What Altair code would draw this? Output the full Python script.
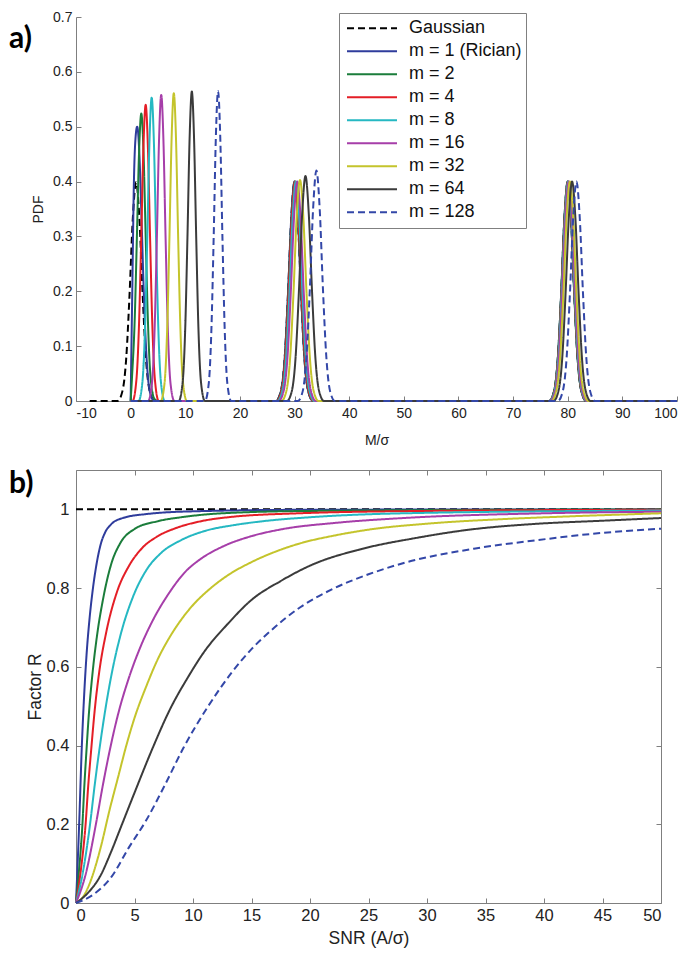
import altair as alt
import pandas as pd

FONT = "Liberation Sans"

series = ["Gaussian", "m = 1 (Rician)", "m = 2", "m = 4", "m = 8", "m = 16", "m = 32", "m = 64", "m = 128"]
colors = ["#000000", "#2f3c9c", "#1b7d3b", "#e41e26", "#25b8c2", "#a63ea9", "#c4c42c", "#3b3b3b", "#3347a8"]
dashes = [[7, 4], [1, 0], [1, 0], [1, 0], [1, 0], [1, 0], [1, 0], [1, 0], [7, 4]]

# ---------------- panel a: PDF vs M/sigma ----------------
a_x_gauss = [-7.5, -2.4, -1.5, -0.8, -0.2, 0.4, 1.0, 1.6, 2.2, 2.8, 3.5, 4.4,
             26.6, 27.5, 28.2, 28.8, 29.4, 30.0, 30.6, 31.2, 31.8, 32.5, 33.4,
             76.6, 77.5, 78.2, 78.8, 79.4, 80.0, 80.6, 81.2, 81.8, 82.5, 83.4, 100]
a_y_gauss = [0, 0, 0.018, 0.079, 0.194, 0.333, 0.399, 0.333, 0.194, 0.079, 0.018, 0,
             0, 0.018, 0.079, 0.194, 0.333, 0.399, 0.333, 0.194, 0.079, 0.018, 0,
             0, 0.018, 0.079, 0.194, 0.333, 0.399, 0.333, 0.194, 0.079, 0.018, 0, 0]

a_x_m1 = [0, 0.3, 0.6, 0.9, 1.2, 1.6, 2.0, 2.4, 2.8, 3.2, 3.7, 4.4,
          26.6, 27.5, 28.2, 28.8, 29.4, 30.0, 30.6, 31.2, 31.8, 32.5, 33.4,
          76.6, 77.5, 78.2, 78.8, 79.4, 80.0, 80.6, 81.2, 81.8, 82.5, 83.4, 100]
a_y_m1 = [0, 0.2, 0.4, 0.48, 0.50, 0.45, 0.33, 0.2, 0.1, 0.04, 0.01, 0,
          0, 0.018, 0.079, 0.195, 0.334, 0.40, 0.334, 0.195, 0.079, 0.018, 0,
          0, 0.018, 0.079, 0.195, 0.334, 0.40, 0.334, 0.195, 0.079, 0.018, 0, 0]

a_x_m2 = [0, 0.25, 0.75, 1.15, 1.55, 1.95, 2.35, 2.75, 3.15, 3.65, 4.35, 5.0,
          26.65, 27.55, 28.25, 28.85, 29.45, 30.05, 30.65, 31.25, 31.85, 32.55, 33.45,
          76.6, 77.5, 78.2, 78.8, 79.4, 80.0, 80.6, 81.2, 81.8, 82.5, 83.4, 100]
a_y_m2 = [0, 0.043, 0.150, 0.301, 0.456, 0.524, 0.456, 0.301, 0.150, 0.043, 0.004, 0,
          0, 0.018, 0.079, 0.195, 0.334, 0.40, 0.334, 0.195, 0.079, 0.018, 0,
          0, 0.018, 0.079, 0.195, 0.334, 0.40, 0.334, 0.195, 0.079, 0.018, 0, 0]

a_x_m4 = [0, 0.35, 1.05, 1.55, 1.95, 2.35, 2.75, 3.15, 3.55, 3.95, 4.45, 5.15,
          26.7, 27.6, 28.3, 28.9, 29.5, 30.1, 30.7, 31.3, 31.9, 32.6, 33.5,
          76.65, 77.55, 78.25, 78.85, 79.45, 80.05, 80.65, 81.25, 81.85, 82.55, 83.45, 100]
a_y_m4 = [0, 0, 0.038, 0.145, 0.301, 0.466, 0.54, 0.466, 0.301, 0.145, 0.038, 0,
          0, 0.018, 0.079, 0.195, 0.334, 0.40, 0.334, 0.195, 0.079, 0.018, 0,
          0, 0.018, 0.079, 0.195, 0.334, 0.40, 0.334, 0.195, 0.079, 0.018, 0, 0]

a_x_m8 = [0, 1.45, 2.15, 2.65, 3.05, 3.45, 3.85, 4.25, 4.65, 5.05, 5.55, 6.25,
          26.85, 27.75, 28.45, 29.05, 29.65, 30.25, 30.85, 31.45, 32.05, 32.75, 33.65,
          76.7, 77.6, 78.3, 78.9, 79.5, 80.1, 80.7, 81.3, 81.9, 82.6, 83.5, 100]
a_y_m8 = [0, 0, 0.034, 0.138, 0.299, 0.474, 0.553, 0.474, 0.299, 0.138, 0.034, 0,
          0, 0.018, 0.079, 0.195, 0.334, 0.40, 0.334, 0.195, 0.079, 0.018, 0,
          0, 0.018, 0.079, 0.195, 0.334, 0.40, 0.334, 0.195, 0.079, 0.018, 0, 0]

a_x_m16 = [0, 3.2, 3.9, 4.4, 4.8, 5.2, 5.6, 6.0, 6.4, 6.8, 7.3, 8.0,
           27.1, 28.0, 28.7, 29.3, 29.9, 30.5, 31.1, 31.7, 32.3, 33.0, 33.9,
           76.8, 77.7, 78.4, 79.0, 79.6, 80.2, 80.8, 81.4, 82.0, 82.7, 83.6, 100]
a_y_m16 = [0, 0, 0.032, 0.134, 0.296, 0.476, 0.558, 0.476, 0.296, 0.134, 0.032, 0,
           0, 0.018, 0.079, 0.195, 0.334, 0.40, 0.334, 0.195, 0.079, 0.018, 0,
           0, 0.018, 0.079, 0.195, 0.334, 0.40, 0.334, 0.195, 0.079, 0.018, 0, 0]

a_x_m32 = [0, 5.5, 6.2, 6.7, 7.1, 7.5, 7.9, 8.3, 8.7, 9.1, 9.6, 10.3,
           27.6, 28.5, 29.2, 29.8, 30.4, 31.0, 31.6, 32.2, 32.8, 33.5, 34.4,
           77.0, 77.9, 78.6, 79.2, 79.8, 80.4, 81.0, 81.6, 82.2, 82.9, 83.8, 100]
a_y_m32 = [0, 0, 0.032, 0.135, 0.297, 0.479, 0.561, 0.479, 0.297, 0.135, 0.032, 0,
           0, 0.018, 0.080, 0.196, 0.337, 0.403, 0.337, 0.196, 0.080, 0.018, 0,
           0, 0.018, 0.079, 0.195, 0.334, 0.40, 0.334, 0.195, 0.079, 0.018, 0, 0]

a_x_m64 = [0, 8.8, 9.5, 10.0, 10.4, 10.8, 11.2, 11.6, 12.0, 12.4, 12.9, 13.6,
           28.6, 29.5, 30.2, 30.8, 31.4, 32.0, 32.6, 33.2, 33.8, 34.5, 35.4,
           77.4, 78.3, 79.0, 79.6, 80.2, 80.8, 81.4, 82.0, 82.6, 83.3, 84.2, 100]
a_y_m64 = [0, 0, 0.032, 0.135, 0.299, 0.481, 0.564, 0.481, 0.299, 0.135, 0.032, 0,
           0, 0.018, 0.081, 0.200, 0.342, 0.41, 0.342, 0.200, 0.081, 0.018, 0,
           0, 0.018, 0.079, 0.195, 0.334, 0.40, 0.334, 0.195, 0.079, 0.018, 0, 0]

a_x_m128 = [0, 13.6, 14.3, 14.8, 15.2, 15.6, 16.0, 16.4, 16.8, 17.2, 17.7, 18.4,
            30.6, 31.5, 32.2, 32.8, 33.4, 34.0, 34.6, 35.2, 35.8, 36.5, 37.4,
            78.2, 79.1, 79.8, 80.4, 81.0, 81.6, 82.2, 82.8, 83.4, 84.1, 85.0, 100]
a_y_m128 = [0, 0, 0.032, 0.136, 0.299, 0.482, 0.565, 0.482, 0.299, 0.136, 0.032, 0,
            0, 0.018, 0.083, 0.204, 0.351, 0.42, 0.351, 0.204, 0.083, 0.018, 0,
            0, 0.018, 0.079, 0.195, 0.334, 0.40, 0.334, 0.195, 0.079, 0.018, 0, 0]

# ---------------- panel b: Factor R vs SNR ----------------
b_x_gauss = [0, 50]
b_y_gauss = [1.0, 1.0]
b_x_m1 = [0, 0.27, 0.5, 0.7, 0.9, 1.15, 1.45, 1.75, 2.1, 2.5, 3.0, 4.0, 6.0, 10, 20, 50]
b_y_m1 = [0, 0.2, 0.4, 0.53, 0.63, 0.72, 0.8, 0.86, 0.91, 0.942, 0.962, 0.978, 0.988, 0.995, 0.999, 1.0]
b_x_m2 = [0, 0.25, 0.55, 0.7, 0.9, 1.1, 1.4, 1.8, 2.3, 3.0, 3.8, 5.0, 7.0, 9.0, 12.5, 20, 50]
b_y_m2 = [0, 0.08, 0.2, 0.29, 0.39, 0.48, 0.58, 0.68, 0.77, 0.86, 0.915, 0.95, 0.97, 0.98, 0.99, 0.996, 1.0]
b_x_m4 = [0, 0.4, 0.82, 1.05, 1.3, 1.6, 2.0, 2.6, 3.5, 4.5, 5.6, 7.0, 8.5, 10.7, 13, 19, 30, 50]
b_y_m4 = [0, 0.08, 0.2, 0.3, 0.39, 0.49, 0.59, 0.69, 0.79, 0.855, 0.9, 0.932, 0.952, 0.97, 0.98, 0.99, 0.996, 0.999]
b_x_m8 = [0, 0.6, 1.2, 1.6, 2.0, 2.5, 3.1, 3.8, 4.9, 6.0, 7.3, 9.0, 11.0, 13.5, 16, 20, 28, 50]
b_y_m8 = [0, 0.08, 0.2, 0.3, 0.39, 0.49, 0.59, 0.68, 0.78, 0.845, 0.89, 0.922, 0.945, 0.96, 0.97, 0.98, 0.99, 0.997]
b_x_m16 = [0, 0.8, 1.7, 2.3, 2.9, 3.6, 4.5, 5.5, 6.6, 7.9, 9.3, 10.7, 12.5, 15, 17.5, 22.3, 28, 40, 50]
b_y_m16 = [0, 0.07, 0.2, 0.3, 0.39, 0.48, 0.57, 0.65, 0.72, 0.785, 0.84, 0.875, 0.905, 0.932, 0.949, 0.966, 0.978, 0.99, 0.994]
b_x_m32 = [0, 0.7, 1.3, 2.1, 2.9, 3.6, 4.3, 5.0, 6.0, 7.0, 8.0, 9.0, 10.0, 11.4, 13, 15, 17,
           19.2, 22, 24.9, 30.6, 36.3, 42, 50]
b_y_m32 = [0, 0.02, 0.06, 0.14, 0.24, 0.32, 0.4, 0.47, 0.55, 0.62, 0.675, 0.72, 0.757, 0.797, 0.833,
           0.866, 0.892, 0.914, 0.933, 0.948, 0.965, 0.975, 0.982, 0.99]
b_x_m64 = [0, 1.0, 2.1, 3.0, 3.8, 5.0, 6.5, 8.0, 9.6, 11, 13, 15, 17.5, 20, 24.5, 29, 33.5, 39.2, 44.9, 50]
b_y_m64 = [0, 0.025, 0.07, 0.13, 0.19, 0.28, 0.39, 0.49, 0.575, 0.64, 0.71, 0.77, 0.818, 0.857, 0.9,
           0.927, 0.948, 0.963, 0.971, 0.978]
b_x_m128 = [0, 1.5, 3.0, 4.5, 6.0, 7.6, 9.2, 11.3, 13.3, 15, 16.4, 19.2, 22.1, 25, 27.8, 34, 39.2, 44.9, 50]
b_y_m128 = [0, 0.022, 0.065, 0.14, 0.21, 0.3, 0.395, 0.5, 0.585, 0.645, 0.685, 0.752, 0.8, 0.835, 0.862,
            0.9, 0.921, 0.94, 0.951]

xa_ticks = [-10, 0, 10, 20, 30, 40, 50, 60, 70, 80, 90, 100]
ya_ticks = [0, 0.1, 0.2, 0.3, 0.4, 0.5, 0.6, 0.7]
xb_ticks = [0, 5, 10, 15, 20, 25, 30, 35, 40, 45, 50]
yb_ticks = [0, 0.2, 0.4, 0.6, 0.8, 1]


def long_table(xs_list, ys_list):
    rows = []
    for name, xs, ys in zip(series, xs_list, ys_list):
        for x, y in zip(xs, ys):
            rows.append({"series": name, "x": x, "y": y})
    return pd.DataFrame(rows)


df_a = long_table(
    [a_x_gauss, a_x_m1, a_x_m2, a_x_m4, a_x_m8, a_x_m16, a_x_m32, a_x_m64, a_x_m128],
    [a_y_gauss, a_y_m1, a_y_m2, a_y_m4, a_y_m8, a_y_m16, a_y_m32, a_y_m64, a_y_m128])
df_b = long_table(
    [b_x_gauss, b_x_m1, b_x_m2, b_x_m4, b_x_m8, b_x_m16, b_x_m32, b_x_m64, b_x_m128],
    [b_y_gauss, b_y_m1, b_y_m2, b_y_m4, b_y_m8, b_y_m16, b_y_m32, b_y_m64, b_y_m128])

color_scale = alt.Scale(domain=series, range=colors)
dash_scale = alt.Scale(domain=series, range=dashes)
LBL = "'' + datum.value"

W_A, H_A = 601, 384
W_B, H_B = 585, 433
FS_A, FT_A = 14, 14
FS_B, FT_B = 16.5, 17.5

xs_a = alt.Scale(domain=[-10, 100], nice=False, zero=False)
ys_a = alt.Scale(domain=[0, 0.7], nice=False)
xs_b = alt.Scale(domain=[0, 50], nice=False)
ys_b = alt.Scale(domain=[0, 1.1], nice=False)

legend_a = alt.Legend(orient="none", legendX=263, legendY=-4, title=None,
                      symbolType="stroke", symbolSize=2500, symbolStrokeWidth=2,
                      labelFont=FONT, labelFontSize=18, labelColor="#111111",
                      fillColor="white", strokeColor="#808080", padding=4,
                      clipHeight=22.6, rowPadding=0, labelOffset=11, symbolOffset=3)

lines_a = alt.Chart(df_a).mark_line(strokeWidth=2, interpolate="monotone").encode(
    x=alt.X("x:Q", scale=xs_a, axis=alt.Axis(orient="bottom", values=xa_ticks, labelExpr=LBL,
                                             ticks=False, tickSize=0, labelPadding=5,
                                             labelFontSize=FS_A, titleFontSize=FT_A,
                                             title="M/σ", titlePadding=13)),
    y=alt.Y("y:Q", scale=ys_a, axis=alt.Axis(orient="left", values=ya_ticks, labelExpr=LBL,
                                             ticks=False, tickSize=0, labelPadding=4,
                                             labelFontSize=FS_A, titleFontSize=FT_A,
                                             title="PDF", titlePadding=7)),
    color=alt.Color("series:N", scale=color_scale, legend=legend_a),
    strokeDash=alt.StrokeDash("series:N", scale=dash_scale, legend=legend_a),
)

ticks_a = alt.Chart(df_a).mark_point(opacity=0).encode(
    x=alt.X("x:Q", scale=xs_a, axis=alt.Axis(orient="top", offset=-H_A, values=xa_ticks,
                                             labels=False, domain=False, tickSize=5, title=None)),
    y=alt.Y("y:Q", scale=ys_a, axis=alt.Axis(orient="right", offset=-W_A, values=ya_ticks,
                                             labels=False, domain=False, tickSize=5, title=None)),
)

label_a = alt.Chart(alt.Data(values=[{"t": "a)"}])).mark_text(
    font="Lato", fontSize=30, fontWeight="bold", align="left", baseline="middle", color="black"
).encode(text="t:N", x=alt.value(-67), y=alt.value(22))

panel_a = alt.layer(lines_a, ticks_a, label_a).resolve_axis(
    x="independent", y="independent").properties(width=W_A, height=H_A)

lines_b = alt.Chart(df_b).mark_line(strokeWidth=2, interpolate="monotone").encode(
    x=alt.X("x:Q", scale=xs_b, axis=alt.Axis(orient="bottom", values=xb_ticks, labelExpr=LBL,
                                             ticks=False, tickSize=0, labelPadding=4,
                                             labelFontSize=FS_B, titleFontSize=FT_B,
                                             title="SNR (A/σ)", titlePadding=6)),
    y=alt.Y("y:Q", scale=ys_b, axis=alt.Axis(orient="left", values=yb_ticks, labelExpr=LBL,
                                             ticks=False, tickSize=0, labelPadding=7,
                                             labelFontSize=FS_B, titleFontSize=FT_B,
                                             title="Factor R", titlePadding=2)),
    color=alt.Color("series:N", scale=color_scale, legend=None),
    strokeDash=alt.StrokeDash("series:N", scale=dash_scale, legend=None),
)

ticks_b1 = alt.Chart(df_b).mark_point(opacity=0).encode(
    x=alt.X("x:Q", scale=xs_b, axis=alt.Axis(orient="top", offset=-H_B, values=xb_ticks,
                                             labels=False, domain=False, tickSize=5, title=None)),
    y=alt.Y("y:Q", scale=ys_b, axis=alt.Axis(orient="right", offset=-W_B, values=yb_ticks,
                                             labels=False, domain=False, tickSize=5, title=None)),
)
ticks_b2 = alt.Chart(df_b).mark_point(opacity=0).encode(
    x=alt.X("x:Q", scale=xs_b, axis=alt.Axis(orient="bottom", offset=-H_B, values=xb_ticks,
                                             labels=False, domain=True, tickSize=5, title=None)),
    y=alt.Y("y:Q", scale=ys_b, axis=alt.Axis(orient="left", offset=-W_B, values=yb_ticks,
                                             labels=False, domain=True, tickSize=5, title=None)),
)

label_b = alt.Chart(alt.Data(values=[{"t": "b)"}])).mark_text(
    font="Lato", fontSize=30, fontWeight="bold", align="left", baseline="middle", color="black"
).encode(text="t:N", x=alt.value(-67), y=alt.value(14))

panel_b = alt.layer(lines_b, ticks_b1, ticks_b2, label_b).resolve_axis(
    x="independent", y="independent").properties(width=W_B, height=H_B)

chart = alt.vconcat(panel_a, panel_b, spacing=20).resolve_scale(
    color="independent", strokeDash="independent"
).properties(
    padding={"left": 0, "top": 1, "right": 2, "bottom": 2}
).configure(font=FONT).configure_view(stroke="transparent").configure_axis(
    grid=False, labelFont=FONT, labelColor="#222222",
    titleFont=FONT, titleFontWeight="normal", titleColor="#222222",
    domainColor="#7f7f7f", tickColor="#7f7f7f", domainWidth=1, tickWidth=1
)

chart.save("out.html", embed_options={"renderer": "svg", "actions": False})
